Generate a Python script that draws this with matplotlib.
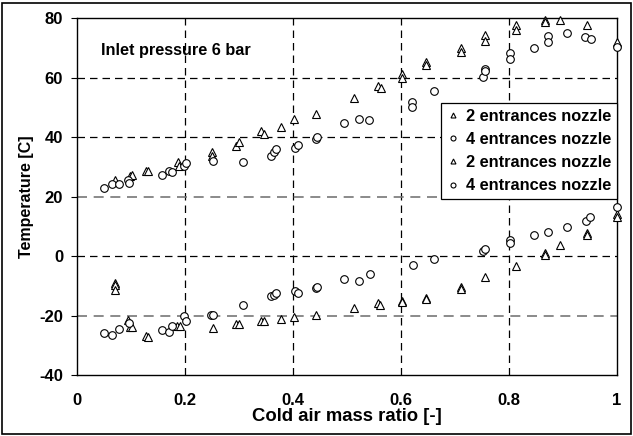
import matplotlib
matplotlib.use("Agg")
import matplotlib.pyplot as plt
from matplotlib.patches import Rectangle

plt.rcParams['font.family'] = ['Liberation Sans', 'DejaVu Sans']
plt.rcParams['font.weight'] = 'bold'
plt.rcParams['axes.unicode_minus'] = False

# Hot side, 2 entrances nozzle (triangles)
hot2_x = [0.070, 0.098, 0.101, 0.128, 0.131, 0.1875, 0.189, 0.250, 0.250, 0.295, 0.300,
          0.341, 0.346, 0.377, 0.401, 0.442, 0.513, 0.557, 0.563, 0.602, 0.602, 0.6465,
          0.6465, 0.711, 0.711, 0.756, 0.756, 0.813, 0.813, 0.866, 0.866, 0.894, 0.944, 1.0]
hot2_t = [25.5, 27.0, 27.3, 28.5, 28.6, 31.5, 30.4, 35.0, 33.6, 37.0, 38.2,
          42.1, 40.9, 43.4, 46.0, 47.9, 53.0, 57.3, 56.6, 61.3, 59.7, 65.2,
          64.3, 70.0, 68.5, 74.2, 72.2, 77.7, 76.1, 79.4, 78.6, 79.4, 77.5, 71.9]

# Hot side, 4 entrances nozzle (circles)
hot4_x = [0.050, 0.065, 0.078, 0.095, 0.097, 0.157, 0.170, 0.176, 0.199, 0.202, 0.252,
          0.307, 0.359, 0.364, 0.369, 0.403, 0.409, 0.443, 0.445, 0.495, 0.522, 0.540,
          0.621, 0.621, 0.662, 0.752, 0.755, 0.755, 0.802, 0.802, 0.847, 0.872, 0.872,
          0.907, 0.941, 0.951, 1.0]
hot4_t = [23.0, 24.1, 24.3, 25.6, 24.7, 27.2, 28.7, 28.3, 30.4, 31.4, 32.0,
          31.7, 33.7, 34.9, 35.9, 36.2, 37.5, 39.3, 40.1, 44.7, 46.1, 45.7,
          51.7, 50.1, 55.6, 60.1, 63.0, 62.2, 68.2, 66.3, 69.9, 74.1, 72.1,
          75.1, 73.6, 73.1, 70.2]

# Cold side, 2 entrances nozzle (triangles)
cold2_x = [0.071, 0.071, 0.071, 0.095, 0.099, 0.102, 0.127, 0.131, 0.186, 0.190, 0.251,
           0.295, 0.300, 0.341, 0.346, 0.377, 0.401, 0.442, 0.513, 0.557, 0.562, 0.602,
           0.602, 0.6465, 0.6465, 0.712, 0.712, 0.755, 0.813, 0.867, 0.867, 0.894, 0.944,
           0.944, 1.0, 1.0]
cold2_t = [-9.0, -9.8, -11.4, -21.3, -23.9, -23.9, -26.7, -27.1, -23.4, -23.4, -24.0,
           -22.8, -22.8, -21.6, -21.8, -21.0, -20.4, -19.9, -17.3, -15.7, -16.4, -14.9,
           -15.5, -13.9, -14.3, -10.3, -10.9, -7.0, -3.2, 1.0, 0.5, 3.9, 7.9,
           7.2, 14.1, 13.3]

# Cold side, 4 entrances nozzle (circles)
cold4_x = [0.050, 0.065, 0.078, 0.097, 0.157, 0.170, 0.176, 0.199, 0.202, 0.249, 0.252,
           0.307, 0.359, 0.364, 0.369, 0.403, 0.409, 0.442, 0.445, 0.495, 0.522, 0.542,
           0.623, 0.662, 0.751, 0.755, 0.802, 0.802, 0.847, 0.872, 0.907, 0.942, 0.950, 1.0]
cold4_t = [-25.9, -26.6, -24.4, -22.3, -24.9, -25.5, -23.4, -20.1, -21.9, -19.7, -19.8,
           -16.4, -13.5, -13.1, -12.4, -11.7, -12.2, -10.7, -10.2, -7.7, -8.2, -5.9,
           -3.1, -1.1, 1.9, 2.4, 5.5, 4.6, 7.1, 8.2, 9.7, 11.7, 13.1, 16.6]

labels = ["2 entrances nozzle", "4 entrances nozzle", "2 entrances nozzle", "4 entrances nozzle"]
x_ticks = [0, 0.2, 0.4, 0.6, 0.8, 1]
x_ticklabels = ["0", "0.2", "0.4", "0.6", "0.8", "1"]
y_ticks = [-40, -20, 0, 20, 40, 60, 80]

fig = plt.figure(figsize=(6.33, 4.36), dpi=100)
ax = fig.add_axes([77/633, 1-375.3/436, 540/633, 357.3/436])

# grid lines
for xv in [0.2, 0.4, 0.6, 0.8]:
    ax.axvline(xv, color='black', lw=0.9, ls=(0, (6, 4)), zorder=1)
for yv in [60, 40, 0]:
    ax.axhline(yv, color='black', lw=0.9, ls=(0, (6, 4)), zorder=1)
for yv in [20, -20]:
    ax.axhline(yv, color='#777777', lw=1.2, ls=(0, (6, 4)), zorder=1)

mk = dict(ls='none', mfc='white', mec='black', mew=0.8, ms=5.5, zorder=3, clip_on=False)
ax.plot(hot2_x, hot2_t, marker='^', label=labels[0], **mk)
ax.plot(hot4_x, hot4_t, marker='o', label=labels[1], **mk)
ax.plot(cold2_x, cold2_t, marker='^', label=labels[2], **mk)
ax.plot(cold4_x, cold4_t, marker='o', label=labels[3], **mk)

ax.set_xlim(0, 1)
ax.set_ylim(-40, 80)
ax.set_xticks(x_ticks)
ax.set_xticklabels(x_ticklabels)
ax.set_yticks(y_ticks)
ax.tick_params(axis='x', length=0, pad=13, labelsize=12)
ax.tick_params(axis='y', length=4, pad=6, labelsize=12, direction='out')
for lab in ax.get_xticklabels() + ax.get_yticklabels():
    lab.set_fontweight('bold')

for s in ax.spines.values():
    s.set_linewidth(1.0)
    s.set_color('black')

ax.set_xlabel("Cold air mass ratio [-]", fontsize=13.3, fontweight='bold', labelpad=0)
ax.set_ylabel("Temperature [C]", fontsize=11.5, fontweight='bold', labelpad=4)

ax.text(0.044, 0.908, "Inlet pressure 6 bar", transform=ax.transAxes,
        fontsize=11.7, fontweight='bold', va='center', ha='left')

leg = ax.legend(loc='upper right', bbox_to_anchor=(1.0, 0.762), fontsize=11.8,
                markerscale=0.65, handlelength=0.8, handletextpad=0.4,
                borderpad=0.35, labelspacing=0.5, fancybox=False,
                framealpha=1, edgecolor='black', borderaxespad=0)
leg.get_frame().set_linewidth(0.9)
for t in leg.get_texts():
    t.set_fontweight('bold')

fig.patches.append(Rectangle((2/633, 2/436), 629/633, 431/436, transform=fig.transFigure,
                             fill=False, edgecolor='black', lw=1.2))

fig.savefig("out.png", dpi=100)
